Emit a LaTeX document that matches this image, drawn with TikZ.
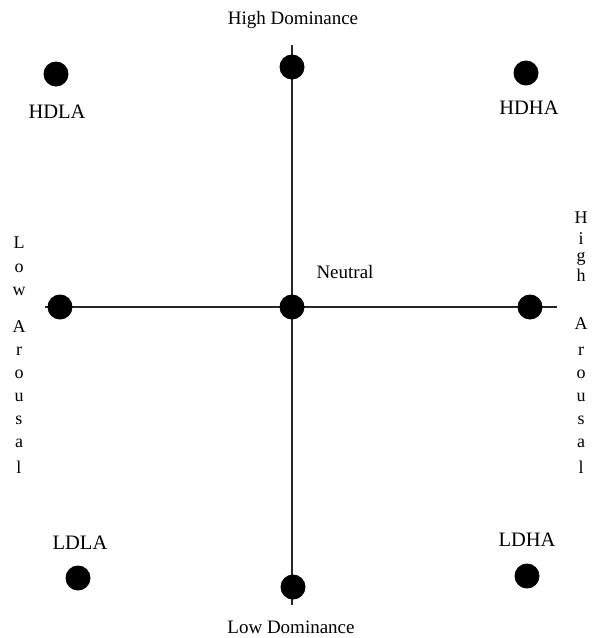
\documentclass[tikz,border=0pt]{standalone}
\usepackage{fontspec}
\setmainfont{Liberation Serif}
\begin{document}
\begin{tikzpicture}[x=1pt,y=-1pt,
  dot/.style={circle,fill=black,inner sep=0pt,minimum size=25pt},
  lbl/.style={inner sep=0pt,font=\fontsize{19}{22}\selectfont},
  code/.style={inner sep=0pt,font=\fontsize{20.5}{22}\selectfont},
  let/.style={inner sep=0pt,font=\fontsize{18}{20}\selectfont},
  axis/.style={line width=1.2pt,draw=black!85}]
\useasboundingbox (0,0) rectangle (592,638);
\coordinate (vt) at (292,45);
\coordinate (vb) at (292,605);
\coordinate (hl) at (45,307);
\coordinate (hr) at (557,307);
\draw[axis] (vt) -- (vb);
\draw[axis] (hl) -- (hr);
\node[dot] (d1) at (56,74) {};
\node[dot] (d2) at (292,67) {};
\node[dot] (d3) at (526,73) {};
\node[dot] (d4) at (60,307) {};
\node[dot] (d5) at (292,307) {};
\node[dot] (d6) at (530,307) {};
\node[dot] (d7) at (78,578) {};
\node[dot] (d8) at (293,587) {};
\node[dot] (d9) at (527,576) {};
\node[lbl] (thd) at (293,20) {High Dominance};
\node[lbl] (tld) at (291,627) {Low Dominance};
\node[lbl] (tn) at (345,272) {Neutral};
\node[code] (t1) at (57,112) {HDLA};
\node[code] (t2) at (529,108) {HDHA};
\node[code] (t3) at (80,543) {LDLA};
\node[code] (t4) at (527,540) {LDHA};
\foreach \c/\y [count=\i] in {L/243,o/268,w/291,A/327,r/351,o/374,u/397,s/420,a/443,l/467}
  \node[let] (la\i) at (19,\y) {\c};
\foreach \c/\y [count=\i] in {H/218,i/239,g/259,h/275,A/324,r/351,o/374,u/397,s/420,a/443,l/467}
  \node[let] (ra\i) at (581,\y) {\c};
\end{tikzpicture}
\end{document}
